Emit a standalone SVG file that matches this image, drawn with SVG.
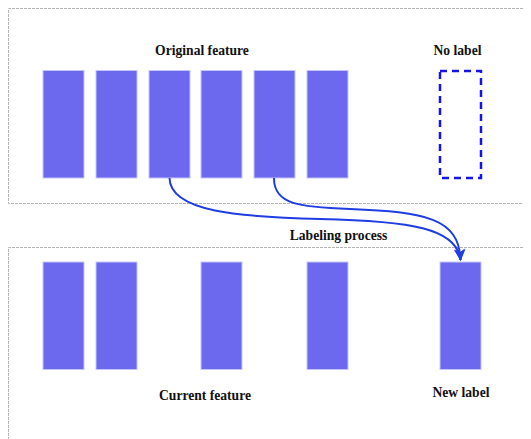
<svg xmlns="http://www.w3.org/2000/svg" width="531" height="439" viewBox="0 0 531 439">
  <style>
    .frame { stroke: #b4b4b4; stroke-width: 1; stroke-dasharray: 3 1; fill: none; }
    .bar { fill: #6c69ee; stroke: #c6c5f9; stroke-width: 1; }
    .empty { fill: none; stroke: #1414e6; stroke-width: 2.5; stroke-dasharray: 7 5; }
    .lbl { font-family: "Liberation Serif", "Times New Roman", serif; font-weight: bold; font-size: 13.6px; fill: #111; text-anchor: middle; }
    .flow { fill: none; stroke: #1f3de2; stroke-width: 2; }
  </style>
  <defs>
    <marker id="arrow" markerWidth="13" markerHeight="12" refX="11" refY="5.5" orient="auto" markerUnits="userSpaceOnUse" viewBox="0 0 13 11">
      <path d="M0,0 L12,5.5 L0,11 L3.5,5.5 Z" fill="#1f3de2"/>
    </marker>
  </defs>

  <rect width="531" height="439" fill="#ffffff"/>

  <!-- panel frames -->
  <g id="frames">
    <path class="frame" d="M523,8.5 H8.5 V203.5 H523"/>
    <path class="frame" d="M523,247.5 H8.5 V439"/>
  </g>

  <!-- original feature row -->
  <g id="original">
    <rect class="bar" x="43" y="70.5" width="41" height="107.5"/>
    <rect class="bar" x="96" y="70.5" width="41" height="107.5"/>
    <rect class="bar" x="149" y="70.5" width="41" height="107.5"/>
    <rect class="bar" x="201" y="70.5" width="41" height="107.5"/>
    <rect class="bar" x="254" y="70.5" width="41" height="107.5"/>
    <rect class="bar" x="307" y="70.5" width="41" height="107.5"/>
    <text class="lbl" x="202" y="55">Original feature</text>
  </g>

  <g id="no-label">
    <rect class="empty" x="440" y="71" width="41" height="107"/>
    <text class="lbl" x="457.5" y="55">No label</text>
  </g>

  <!-- current feature row -->
  <g id="current">
    <rect class="bar" x="43" y="262" width="41" height="107.5"/>
    <rect class="bar" x="96" y="262" width="41" height="107.5"/>
    <rect class="bar" x="201" y="262" width="41" height="107.5"/>
    <rect class="bar" x="307" y="262" width="41" height="107.5"/>
    <text class="lbl" x="205" y="399.5">Current feature</text>
  </g>

  <g id="new-label">
    <rect class="bar" x="440" y="262" width="41" height="107.5"/>
    <text class="lbl" x="461" y="397">New label</text>
  </g>

  <!-- labeling connectors -->
  <g id="connectors">
    <path class="flow" d="M169.5,178 C170,212 240,217 320,219 C410,221 457,228 460.5,260" marker-end="url(#arrow)"/>
    <path class="flow" d="M274,178 C274,205 300,207 350,209 C425,212 459,218 460.5,260" marker-end="url(#arrow)"/>
    <text class="lbl" x="338.5" y="239.5">Labeling process</text>
  </g>
</svg>
